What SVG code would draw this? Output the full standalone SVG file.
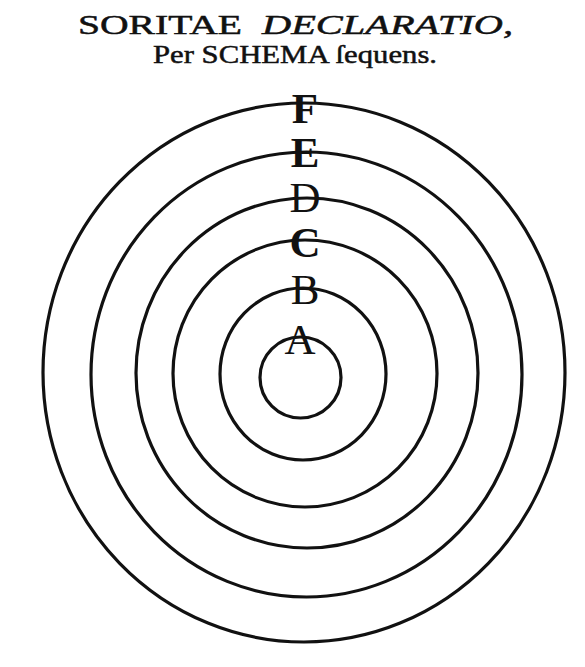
<svg xmlns="http://www.w3.org/2000/svg" width="585" height="667" viewBox="0 0 585 667">
<style>
.ring{fill:none;stroke:#111;stroke-width:3.2}
.title{font-family:"Liberation Serif","Times New Roman",serif;fill:#111;stroke:#111;stroke-width:0.5}
.lbl{font-family:"Liberation Serif","Times New Roman",serif;fill:#111;text-anchor:middle;font-size:43px}
</style>
<rect width="585" height="667" fill="#fff"/>
<g id="title">
<text class="title" x="78" y="34" font-size="28" textLength="164" lengthAdjust="spacingAndGlyphs">SORITAE</text>
<text class="title" x="262" y="34" font-size="28" font-style="italic" textLength="251" lengthAdjust="spacingAndGlyphs">DECLARATIO,</text>
<text class="title" x="153" y="63" font-size="26" textLength="284" lengthAdjust="spacingAndGlyphs">Per SCHEMA ſequens.</text>
</g>
<g id="rings">
<g id="ring-F"><ellipse class="ring" cx="304" cy="372.5" rx="261" ry="269.5" stroke-width="4"/></g>
<g id="ring-E"><ellipse class="ring" cx="306.5" cy="374.5" rx="215.5" ry="222.5"/></g>
<g id="ring-D"><ellipse class="ring" cx="307" cy="373" rx="171" ry="175"/></g>
<g id="ring-C"><ellipse class="ring" cx="305" cy="373.5" rx="132" ry="133.5"/></g>
<g id="ring-B"><ellipse class="ring" cx="303" cy="374" rx="83" ry="86"/></g>
<g id="ring-A"><ellipse class="ring" cx="300.5" cy="377.5" rx="40.5" ry="40.5" stroke-width="2.6"/></g>
</g>
<g id="labels">
<text class="lbl" x="305" y="123" font-weight="bold">F</text>
<text class="lbl" x="305" y="167" font-weight="bold">E</text>
<text class="lbl" x="305" y="212">D</text>
<text class="lbl" x="305" y="257" font-weight="bold">C</text>
<text class="lbl" x="305" y="304">B</text>
<text class="lbl" x="300" y="354">A</text>
</g>
</svg>
